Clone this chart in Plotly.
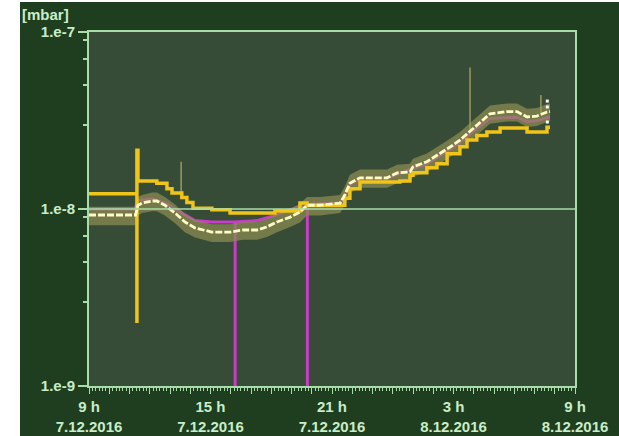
import plotly.graph_objects as go
from datetime import datetime, timedelta

# ---------------- data ----------------
white_t = ["2016-12-07 09:00", "2016-12-07 11:18", "2016-12-07 11:25", "2016-12-07 11:37",
           "2016-12-07 12:07", "2016-12-07 12:21", "2016-12-07 12:45", "2016-12-07 13:15",
           "2016-12-07 13:44", "2016-12-07 14:14", "2016-12-07 15:04", "2016-12-07 15:58",
           "2016-12-07 16:36", "2016-12-07 17:18", "2016-12-07 17:47", "2016-12-07 18:17",
           "2016-12-07 18:56", "2016-12-07 19:25", "2016-12-07 19:46", "2016-12-07 20:24",
           "2016-12-07 21:24", "2016-12-07 21:38", "2016-12-07 21:53", "2016-12-07 22:23",
           "2016-12-07 23:43", "2016-12-08 00:13", "2016-12-08 00:51", "2016-12-08 01:00",
           "2016-12-08 01:41", "2016-12-08 02:20", "2016-12-08 02:50", "2016-12-08 03:19",
           "2016-12-08 03:58", "2016-12-08 04:48", "2016-12-08 05:38", "2016-12-08 06:08",
           "2016-12-08 06:38", "2016-12-08 07:07", "2016-12-08 07:37", "2016-12-08 07:46"]
white_v = [9.25e-9, 9.25e-9, 1.05e-8, 1.08e-8, 1.11e-8, 1.11e-8, 1.05e-8, 9.5e-9,
           8.45e-9, 7.82e-9, 7.41e-9, 7.41e-9, 7.61e-9, 7.61e-9, 7.92e-9, 8.45e-9,
           9.0e-9, 9.6e-9, 1.05e-8, 1.05e-8, 1.08e-8, 1.20e-8, 1.40e-8, 1.50e-8,
           1.50e-8, 1.60e-8, 1.62e-8, 1.73e-8, 1.85e-8, 2.05e-8, 2.24e-8, 2.45e-8,
           2.85e-8, 3.45e-8, 3.55e-8, 3.55e-8, 3.31e-8, 3.35e-8, 3.53e-8, 3.55e-8]
band_hi = [1.03e-8, 1.03e-8, 1.17e-8, 1.20e-8, 1.24e-8, 1.24e-8, 1.17e-8, 1.06e-8,
           9.4e-9, 8.7e-9, 8.2e-9, 8.2e-9, 8.45e-9, 8.45e-9, 8.8e-9, 9.4e-9,
           1.0e-8, 1.07e-8, 1.17e-8, 1.17e-8, 1.20e-8, 1.34e-8, 1.56e-8, 1.67e-8,
           1.67e-8, 1.78e-8, 1.80e-8, 1.92e-8, 2.06e-8, 2.28e-8, 2.49e-8, 2.72e-8,
           3.17e-8, 3.84e-8, 3.95e-8, 3.95e-8, 3.68e-8, 3.72e-8, 3.92e-8, 3.95e-8]
band_lo = [8.1e-9, 8.1e-9, 9.2e-9, 9.5e-9, 9.7e-9, 9.7e-9, 9.2e-9, 8.3e-9,
           7.4e-9, 6.9e-9, 6.5e-9, 6.5e-9, 6.7e-9, 6.7e-9, 6.95e-9, 7.4e-9,
           7.9e-9, 8.4e-9, 9.2e-9, 9.2e-9, 9.5e-9, 1.05e-8, 1.23e-8, 1.32e-8,
           1.32e-8, 1.40e-8, 1.42e-8, 1.52e-8, 1.62e-8, 1.80e-8, 1.97e-8, 2.15e-8,
           2.50e-8, 3.03e-8, 3.12e-8, 3.12e-8, 2.91e-8, 2.94e-8, 3.10e-8, 3.12e-8]

orange_t = ["2016-12-07 09:00", "2016-12-07 11:22", "2016-12-07 11:22", "2016-12-07 11:22",
            "2016-12-07 11:25", "2016-12-07 12:21", "2016-12-07 12:51", "2016-12-07 13:06",
            "2016-12-07 13:35", "2016-12-07 13:50", "2016-12-07 14:08", "2016-12-07 15:04",
            "2016-12-07 15:58", "2016-12-07 18:11", "2016-12-07 19:25", "2016-12-07 19:46",
            "2016-12-07 21:24", "2016-12-07 21:38", "2016-12-07 21:53", "2016-12-07 22:23",
            "2016-12-08 00:21", "2016-12-08 00:51", "2016-12-08 01:00", "2016-12-08 01:41",
            "2016-12-08 02:11", "2016-12-08 02:41", "2016-12-08 03:19", "2016-12-08 03:40",
            "2016-12-08 04:09", "2016-12-08 04:39", "2016-12-08 05:18", "2016-12-08 06:17",
            "2016-12-08 06:38", "2016-12-08 07:16", "2016-12-08 07:37", "2016-12-08 07:46"]
orange_v = [1.22e-8, 1.22e-8, 2.27e-9, 2.15e-8,
            1.44e-8, 1.40e-8, 1.30e-8, 1.23e-8,
            1.16e-8, 1.09e-8, 1.01e-8, 9.9e-9,
            9.5e-9, 9.75e-9, 1.08e-8, 1.05e-8,
            1.05e-8, 1.15e-8, 1.30e-8, 1.42e-8,
            1.44e-8, 1.55e-8, 1.60e-8, 1.71e-8,
            1.80e-8, 2.05e-8, 2.25e-8, 2.45e-8,
            2.60e-8, 2.72e-8, 2.87e-8, 2.87e-8,
            2.72e-8, 2.72e-8, 2.90e-8, 2.90e-8]

magenta_t = ["2016-12-07 09:00", "2016-12-07 11:16", "2016-12-07 11:25", "2016-12-07 12:07",
             "2016-12-07 12:45", "2016-12-07 13:15", "2016-12-07 13:44", "2016-12-07 14:14",
             "2016-12-07 15:04", "2016-12-07 16:13", "2016-12-07 16:13", "2016-12-07 16:13",
             "2016-12-07 17:18", "2016-12-07 17:47", "2016-12-07 18:17", "2016-12-07 18:56",
             "2016-12-07 19:25", "2016-12-07 19:47", "2016-12-07 19:47", "2016-12-07 19:47",
             "2016-12-07 20:24", "2016-12-07 21:24", "2016-12-07 21:38", "2016-12-07 21:53",
             "2016-12-07 22:23", "2016-12-07 23:43", "2016-12-08 00:13", "2016-12-08 01:00",
             "2016-12-08 01:41", "2016-12-08 02:20", "2016-12-08 02:50", "2016-12-08 03:19",
             "2016-12-08 03:58", "2016-12-08 04:48", "2016-12-08 05:38", "2016-12-08 06:08",
             "2016-12-08 06:38", "2016-12-08 07:07", "2016-12-08 07:37", "2016-12-08 07:46"]
magenta_v = [1.0e-8, 1.0e-8, 1.12e-8, 1.14e-8,
             1.08e-8, 1.0e-8, 9.2e-9, 8.6e-9,
             8.45e-9, 8.45e-9, 1.0e-9, 8.45e-9,
             8.6e-9, 8.9e-9, 9.3e-9, 9.9e-9,
             1.03e-8, 1.03e-8, 1.0e-9, 1.06e-8,
             1.07e-8, 1.08e-8, 1.18e-8, 1.38e-8,
             1.48e-8, 1.48e-8, 1.57e-8, 1.70e-8,
             1.80e-8, 2.0e-8, 2.18e-8, 2.38e-8,
             2.75e-8, 3.25e-8, 3.30e-8, 3.30e-8,
             3.12e-8, 3.15e-8, 3.28e-8, 3.30e-8]

spike_t = ["2016-12-07 13:33", "2016-12-08 03:49", "2016-12-08 07:19"]
spike_base = [1.2e-8, 2.8e-8, 3.5e-8]
spike_top = [1.85e-8, 6.3e-8, 4.4e-8]

dots_t = ["2016-12-08 07:38", "2016-12-08 07:38", "2016-12-08 07:38"]
dots_v = [4.07e-8, 3.77e-8, 3.10e-8]

y_tickvals = [1e-9, 1e-8, 1e-7]
y_ticktext = ["1.e-9", "1.e-8", "1.e-7"]
y_minor = [3e-9, 5e-9, 7e-9, 9e-9, 3e-8, 5e-8, 7e-8, 9e-8]
x_labels = {0: "9 h<br>7.12.2016", 6: "15 h<br>7.12.2016", 12: "21 h<br>7.12.2016",
            18: "3 h<br>8.12.2016", 24: "9 h<br>8.12.2016"}
unit_label = "[mbar]"

# ---------------- styling ----------------
OUTER = "#1f3d1f"
PLOT = "#364c36"
LINE = "#a8dca8"
TEXT = "#c8eec8"
FONT = "Liberation Sans"

start = datetime(2016, 12, 7, 9, 0)
hour_vals = [start + timedelta(hours=h) for h in range(25)]
hour_text = [x_labels.get(h, "") for h in range(25)]

fig = go.Figure()

# magenta line (partly covered by the noise band)
fig.add_trace(go.Scatter(x=magenta_t, y=magenta_v, mode="lines",
                         line=dict(color="#c83cc8", width=3), showlegend=False))
# olive noise band
fig.add_trace(go.Scatter(x=white_t, y=band_lo, mode="lines", line=dict(width=0),
                         showlegend=False, hoverinfo="skip"))
fig.add_trace(go.Scatter(x=white_t, y=band_hi, mode="lines", line=dict(width=0),
                         fill="tonexty", fillcolor="rgba(140,140,82,0.72)",
                         showlegend=False, hoverinfo="skip"))
# spikes
sx, sy = [], []
for t, b, tp in zip(spike_t, spike_base, spike_top):
    sx += [t, t, None]
    sy += [b, tp, None]
fig.add_trace(go.Scatter(x=sx, y=sy, mode="lines", line=dict(color="#9a9a60", width=1.5),
                         showlegend=False, hoverinfo="skip"))
# orange step line
fig.add_trace(go.Scatter(x=orange_t, y=orange_v, mode="lines", line_shape="hv",
                         line=dict(color="#f0c418", width=3.5), showlegend=False))
# white line
fig.add_trace(go.Scatter(x=white_t, y=white_v, mode="lines",
                         line=dict(color="#fffcc4", width=2.8, dash="7px,2px"), showlegend=False))
fig.add_trace(go.Scatter(x=dots_t, y=dots_v, mode="markers",
                         marker=dict(color="#ffffff", size=3, symbol="square"), showlegend=False))

fig.update_layout(
    width=619, height=436,
    margin=dict(l=89, r=44, t=32, b=50, autoexpand=False),
    paper_bgcolor="white",
    plot_bgcolor="rgba(0,0,0,0)",
    font=dict(family=FONT, size=15, color=TEXT, weight="bold"),
    showlegend=False,
    shapes=[
        dict(type="rect", xref="paper", yref="paper", x0=-0.142, x1=1.1, y0=-0.2, y1=1.085,
             fillcolor=OUTER, line=dict(width=0), layer="below"),
        dict(type="rect", xref="paper", yref="paper", x0=0, x1=1, y0=0, y1=1,
             fillcolor=PLOT, line=dict(width=0), layer="below"),
        dict(type="line", xref="paper", yref="y", x0=0, x1=1, y0=1e-8, y1=1e-8,
             line=dict(color=LINE, width=1.5), layer="above"),
    ],
    annotations=[dict(text=unit_label, xref="paper", yref="paper",
                      x=-0.142, y=1.078, xanchor="left", yanchor="top", showarrow=False,
                      font=dict(family=FONT, size=15, color=TEXT, weight="bold"))],
)

fig.update_xaxes(
    type="date", range=[start, start + timedelta(hours=24)], automargin=False,
    tickmode="array", tickvals=hour_vals, ticktext=hour_text,
    ticks="outside", ticklen=6, tickwidth=1, tickcolor=LINE,
    showline=True, linecolor=LINE, linewidth=2, mirror=True,
    showgrid=False, zeroline=False,
    minor=dict(dtick=600000, ticks="outside", ticklen=3, tickcolor=LINE, showgrid=False),
    tickfont=dict(family=FONT, size=15, color=TEXT, weight="bold"),
    ticklabelstandoff=0,
)
fig.update_yaxes(
    type="log", range=[-9, -7], automargin=False,
    tickmode="array", tickvals=y_tickvals, ticktext=y_ticktext,
    ticks="outside", ticklen=9, tickwidth=1.5, tickcolor=LINE,
    showline=True, linecolor=LINE, linewidth=2, mirror=True,
    showgrid=False, zeroline=False,
    minor=dict(tickmode="array", tickvals=y_minor, ticks="outside", ticklen=4,
               tickcolor=LINE, showgrid=False),
    tickfont=dict(family=FONT, size=15, color=TEXT, weight="bold"),
)

fig.write_html("out.html", config={"displayModeBar": False},
               post_script="document.body.style.margin='0';document.body.style.padding='0';")
